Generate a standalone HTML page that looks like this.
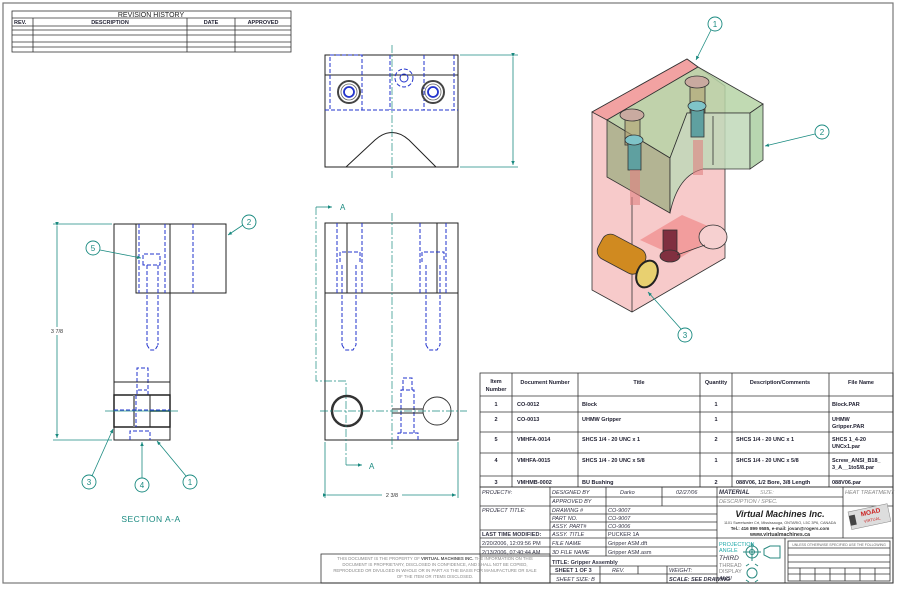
<!DOCTYPE html>
<html><head><meta charset="utf-8"><style>
html,body{margin:0;padding:0;background:#fff;}
svg{display:block;font-family:"Liberation Sans",sans-serif;}
.t{font-size:5.5px;fill:#223;font-weight:bold;}
.ti{font-size:5.5px;fill:#334;font-style:italic;}
.b{font-size:5.5px;fill:#1a2a8a;font-weight:bold;}
.ln{stroke:#333;stroke-width:0.8;fill:none;}
.k{stroke:#222;stroke-width:1;fill:none;}
.d{stroke:#2233cc;stroke-width:1;fill:none;stroke-dasharray:4 2;}
.c{stroke:#1a8a80;stroke-width:0.8;fill:none;}
.cd{stroke:#1a8a80;stroke-width:0.7;fill:none;stroke-dasharray:8 2 2 2;}
.bal{stroke:#1a8a80;stroke-width:0.9;fill:#fff;}
.bt{font-size:8px;fill:#1a8a80;text-anchor:middle;}
</style></head><body>
<svg width="900" height="590" viewBox="0 0 900 590" xmlns="http://www.w3.org/2000/svg">
<defs>
<marker id="ar" markerWidth="6" markerHeight="6" refX="5" refY="3" orient="auto"><path d="M0,0.8 L5,3 L0,5.2z" fill="#1a8a80"/></marker>
<pattern id="hatch" width="6" height="6" patternUnits="userSpaceOnUse" patternTransform="rotate(45)"><line x1="0" y1="0" x2="0" y2="6" stroke="#555" stroke-width="0.7"/></pattern>
</defs>
<rect x="3" y="3" width="890" height="580" fill="none" stroke="#777" stroke-width="1.2"/>
<!-- revision history -->
<g class="ln">
<rect x="12" y="11" width="279" height="41"/>
<line x1="12" y1="18" x2="291" y2="18"/><line x1="12" y1="26" x2="291" y2="26"/>
<line x1="12" y1="30" x2="291" y2="30"/><line x1="12" y1="35" x2="291" y2="35"/>
<line x1="12" y1="42" x2="291" y2="42"/><line x1="12" y1="47" x2="291" y2="47"/>
<line x1="33" y1="18" x2="33" y2="52"/><line x1="187" y1="18" x2="187" y2="52"/><line x1="235" y1="18" x2="235" y2="52"/>
</g>
<text x="151" y="17" font-size="7" text-anchor="middle" fill="#222">REVISION HISTORY</text>
<text x="14" y="24" class="t" font-size="4.5">REV.</text>
<text x="110" y="24" class="t" font-size="4.5" text-anchor="middle">DESCRIPTION</text>
<text x="211" y="24" class="t" font-size="4.5" text-anchor="middle">DATE</text>
<text x="263" y="24" class="t" font-size="4.5" text-anchor="middle">APPROVED</text>

<!-- SECTION A-A -->
<rect class="k" x="114" y="224" width="56" height="216"/>
<rect x="136" y="224" width="90" height="69" fill="#fff" class="k"/>
<line class="d" x1="139" y1="224" x2="139" y2="293"/><line class="d" x1="165" y1="224" x2="165" y2="293"/><line class="d" x1="193" y1="224" x2="193" y2="293"/>
<path class="d" d="M143,265 V254 H160 V265 Z M147,265 V345 M158,265 V345 M147,345 L150,350 H155 L158,345"/>
<path class="d" d="M137,400 V368 H148 V400 M138,390 H147"/>
<rect x="114" y="382" width="56" height="13" fill="url(#hatch)" class="k"/>
<rect x="114" y="427" width="56" height="13" fill="url(#hatch)" class="k"/>
<rect x="114" y="395" width="56" height="32" fill="#fff" stroke="#222" stroke-width="1.5"/>
<line x1="134" y1="395" x2="134" y2="427" stroke="#888" stroke-width="2"/>
<line x1="150" y1="395" x2="150" y2="427" stroke="#222" stroke-width="1"/>
<line x1="150" y1="411" x2="170" y2="411" stroke="#222" stroke-width="1.4"/>
<line class="d" x1="136" y1="395" x2="136" y2="427"/><line class="d" x1="114" y1="410" x2="170" y2="410"/>
<line class="c" x1="105" y1="411" x2="178" y2="411"/>
<path class="d" d="M130,440 V431 H150 V440"/>
<line class="c" x1="53" y1="224" x2="112" y2="224"/><line class="c" x1="53" y1="440" x2="112" y2="440"/>
<line class="c" x1="57" y1="226" x2="57" y2="438" marker-end="url(#ar)" marker-start="url(#ar)"/>
<rect x="50" y="327" width="14" height="8" fill="#fff"/>
<text x="57" y="333" font-size="5.5" text-anchor="middle" fill="#333">3 7/8</text>
<line class="c" x1="243" y1="225" x2="228" y2="235" marker-end="url(#ar)"/>
<circle class="bal" cx="249" cy="222" r="7"/><text class="bt" x="249" y="225">2</text>
<line class="c" x1="100" y1="250" x2="141" y2="258" marker-end="url(#ar)"/>
<circle class="bal" cx="93" cy="248" r="7"/><text class="bt" x="93" y="251">5</text>
<line class="c" x1="92" y1="476" x2="113" y2="429" marker-end="url(#ar)"/>
<circle class="bal" cx="89" cy="482" r="7"/><text class="bt" x="89" y="485">3</text>
<line class="c" x1="142" y1="478" x2="142" y2="442" marker-end="url(#ar)"/>
<circle class="bal" cx="142" cy="485" r="7"/><text class="bt" x="142" y="488">4</text>
<line class="c" x1="186" y1="476" x2="157" y2="441" marker-end="url(#ar)"/>
<circle class="bal" cx="190" cy="482" r="7"/><text class="bt" x="190" y="485">1</text>
<text x="151" y="522" font-size="8.5" fill="#1a8a80" text-anchor="middle" letter-spacing="0.5">SECTION A-A</text>

<!-- TOP VIEW -->
<rect class="k" x="325" y="55" width="133" height="112"/>
<line class="k" x1="325" y1="75" x2="458" y2="75"/>
<path class="k" d="M346,167 L375,140 Q392,125 409,140 L436,167" fill="#fff"/>
<line class="k" x1="325" y1="167" x2="458" y2="167" />
<rect class="d" x="330" y="55" width="32" height="55" stroke-width="1.4"/>
<path class="d" d="M390,55 V110 M424,55 V110 M454,55 V110 M325,110 H458"/>
<circle cx="349" cy="92" r="11" fill="none" stroke="#444" stroke-width="2"/><circle cx="349" cy="92" r="8" fill="none" stroke="#666" stroke-width="0.8"/><circle cx="349" cy="92" r="5" fill="none" stroke="#2233cc" stroke-width="1.8"/>
<circle cx="433" cy="92" r="11" fill="none" stroke="#444" stroke-width="2"/><circle cx="433" cy="92" r="8" fill="none" stroke="#666" stroke-width="0.8"/><circle cx="433" cy="92" r="5" fill="none" stroke="#2233cc" stroke-width="1.8"/>
<circle class="d" cx="404" cy="78" r="9"/><circle cx="404" cy="78" r="4" fill="none" stroke="#2233cc"/>
<line class="cd" x1="392" y1="45" x2="392" y2="178"/>
<line class="c" x1="460" y1="55" x2="518" y2="55"/><line class="c" x1="460" y1="167" x2="518" y2="167"/>
<line class="c" x1="513" y1="57" x2="513" y2="165" marker-end="url(#ar)" marker-start="url(#ar)"/>

<!-- FRONT VIEW -->
<rect class="k" x="325" y="223" width="133" height="217"/>
<line class="k" x1="325" y1="293" x2="458" y2="293"/>
<line class="k" x1="347" y1="223" x2="347" y2="293"/><line class="k" x1="437" y1="223" x2="437" y2="293"/>
<path class="d" d="M337,223 V293 M362,223 V293 M340,262 V252 H360 V262 M342,265 V345 M356,265 V345 M342,345 L345,350 H353 L356,345"/>
<path class="d" d="M420,223 V293 M446,223 V293 M422,262 V252 H444 V262 M426,265 V345 M440,265 V345 M426,345 L429,350 H437 L440,345"/>
<path class="d" d="M398,440 V433 H418 V440 M401,433 V390 H414 V433 M403,390 V378 H412 V390"/>
<circle cx="347" cy="411" r="15" fill="none" stroke="#333" stroke-width="2.5"/>
<circle cx="437" cy="411" r="14" fill="none" stroke="#333" stroke-width="0.9"/>
<path class="k" d="M392,409 H423 M392,413 H423" stroke-width="0.7"/>
<line class="cd" x1="320" y1="411" x2="467" y2="411"/>
<line class="cd" x1="392" y1="213" x2="392" y2="450"/>
<path class="cd" d="M316,207 V381 H346 V465"/>
<line class="c" x1="316" y1="207" x2="332" y2="207" marker-end="url(#ar)"/>
<line class="c" x1="346" y1="465" x2="362" y2="465" marker-end="url(#ar)"/>
<text x="340" y="210" font-size="8" fill="#1a8a80">A</text>
<text x="369" y="469" font-size="8" fill="#1a8a80">A</text>
<line class="c" x1="325" y1="442" x2="325" y2="498"/><line class="c" x1="458" y1="442" x2="458" y2="498"/>
<line class="c" x1="327" y1="495" x2="456" y2="495" marker-end="url(#ar)" marker-start="url(#ar)"/>
<rect x="382" y="491" width="20" height="8" fill="#fff"/>
<text x="392" y="497" font-size="5.5" fill="#333" text-anchor="middle">2 3/8</text>

<!-- 3D VIEW -->
<g stroke="#333" stroke-width="0.8">
<polygon points="592,112 687,59 698,67 725,86 725,258 632,312 592,290" fill="#f6c4c4" fill-opacity="0.9"/>
<polygon points="592,112 687,59 698,67 607,120" fill="#f2a2a2"/>
<line x1="632" y1="197" x2="632" y2="312"/>
<polygon points="640,240 682,215 722,232 680,258" fill="#ee7878" fill-opacity="0.55" stroke="none"/>
<polygon points="607,120 698,67 763,104 750,113 687,113 670,158" fill="#b6d3a6" fill-opacity="0.85"/>
<polygon points="607,120 670,158 670,213 607,177" fill="#a7b08a" fill-opacity="0.85"/>
<path d="M670,158 L687,113 L750,113 L750,169 L703,169 Q678,175 670,213 Z" fill="#c0d8b8" fill-opacity="0.85"/>
<polygon points="750,113 763,104 763,160 750,169" fill="#b8d6b0"/>
<line x1="713" y1="116" x2="713" y2="165"/>
<rect x="625" y="115" width="15" height="30" fill="#b0a070" fill-opacity="0.6"/>
<ellipse cx="632" cy="115" rx="12" ry="6" fill="#c9aaa0"/>
<rect x="690" y="85" width="15" height="28" fill="#b0a070" fill-opacity="0.6"/>
<ellipse cx="697" cy="82" rx="12" ry="6" fill="#c9aaa0"/>
<rect x="628" y="140" width="13" height="30" fill="#5fa0a0"/><ellipse cx="634" cy="140" rx="9" ry="5" fill="#7fc4c8"/>
<rect x="691" y="107" width="13" height="30" fill="#5fa0a0"/><ellipse cx="697" cy="106" rx="9" ry="5" fill="#7fc4c8"/>
<rect x="630" y="170" width="10" height="35" fill="#e08080" fill-opacity="0.6" stroke="none"/>
<rect x="693" y="140" width="10" height="35" fill="#e08080" fill-opacity="0.6" stroke="none"/>
<rect x="663" y="230" width="14" height="25" fill="#803040"/><ellipse cx="670" cy="256" rx="10" ry="6" fill="#803040"/>
<ellipse cx="713" cy="237" rx="14" ry="12" fill="#f6d0d0"/>
<line x1="677" y1="255" x2="705" y2="245"/>
<rect x="597" y="240" width="48" height="27" rx="9" fill="#d08a20" transform="rotate(28 620 255)"/>
<ellipse cx="647" cy="274" rx="10" ry="14" fill="#e8d070" stroke="#222" stroke-width="2" transform="rotate(25 647 274)"/>
</g>
<line class="c" x1="711" y1="30" x2="696" y2="60" marker-end="url(#ar)"/>
<circle class="bal" cx="715" cy="24" r="7"/><text class="bt" x="715" y="27">1</text>
<line class="c" x1="815" y1="134" x2="765" y2="146" marker-end="url(#ar)"/>
<circle class="bal" cx="822" cy="132" r="7"/><text class="bt" x="822" y="135">2</text>
<line class="c" x1="681" y1="329" x2="648" y2="292" marker-end="url(#ar)"/>
<circle class="bal" cx="685" cy="335" r="7"/><text class="bt" x="685" y="338">3</text>

<!-- BOM -->
<g class="ln">
<rect x="480" y="373" width="413" height="114"/>
<line x1="480" y1="396" x2="893" y2="396"/><line x1="480" y1="412" x2="893" y2="412"/>
<line x1="480" y1="432" x2="893" y2="432"/><line x1="480" y1="453" x2="893" y2="453"/>
<line x1="480" y1="476" x2="893" y2="476"/>
<line x1="512" y1="373" x2="512" y2="487"/><line x1="578" y1="373" x2="578" y2="487"/>
<line x1="700" y1="373" x2="700" y2="487"/><line x1="732" y1="373" x2="732" y2="487"/>
<line x1="829" y1="373" x2="829" y2="487"/>
</g>
<g>
<text x="496" y="383" text-anchor="middle" class="t">Item</text><text x="496" y="391" text-anchor="middle" class="t">Number</text>
<text x="545" y="384" text-anchor="middle" class="t">Document Number</text>
<text x="639" y="384" text-anchor="middle" class="t">Title</text>
<text x="716" y="384" text-anchor="middle" class="t">Quantity</text>
<text x="780" y="384" text-anchor="middle" class="t">Description/Comments</text>
<text x="861" y="384" text-anchor="middle" class="t">File Name</text>
</g>
<g class="t">
<text x="496" y="406" text-anchor="middle">1</text><text x="517" y="406">CO-0012</text><text x="582" y="406">Block</text><text x="716" y="406" text-anchor="middle">1</text><text x="832" y="406">Block.PAR</text>
<text x="496" y="421" text-anchor="middle">2</text><text x="517" y="421">CO-0013</text><text x="582" y="421">UHMW Gripper</text><text x="716" y="421" text-anchor="middle">1</text><text x="832" y="421">UHMW</text><text x="832" y="428">Gripper.PAR</text>
<text x="496" y="441" text-anchor="middle">5</text><text x="517" y="441">VMHFA-0014</text><text x="582" y="441">SHCS 1/4 - 20 UNC x 1</text><text x="716" y="441" text-anchor="middle">2</text><text x="736" y="441">SHCS 1/4 - 20 UNC x 1</text><text x="832" y="441">SHCS 1_4-20</text><text x="832" y="448">UNCx1.par</text>
<text x="496" y="462" text-anchor="middle">4</text><text x="517" y="462">VMHFA-0015</text><text x="582" y="462">SHCS 1/4 - 20 UNC x 5/8</text><text x="716" y="462" text-anchor="middle">1</text><text x="736" y="462">SHCS 1/4 - 20 UNC x 5/8</text><text x="832" y="462">Screw_ANSI_B18_</text><text x="832" y="469">3_A__1to5/8.par</text>
<text x="496" y="484" text-anchor="middle">3</text><text x="517" y="484">VMHMB-0002</text><text x="582" y="484">BU Bushing</text><text x="716" y="484" text-anchor="middle">2</text><text x="736" y="484">088V06, 1/2 Bore, 3/8 Length</text><text x="832" y="484">088V06.par</text>
</g>

<!-- title block -->
<g class="ln">
<rect x="480" y="487" width="413" height="96"/>
<rect x="321" y="554" width="229" height="29"/>
<line x1="550" y1="487" x2="550" y2="583"/>
<line x1="606" y1="487" x2="606" y2="556"/>
<line x1="662" y1="487" x2="662" y2="506"/>
<line x1="717" y1="487" x2="717" y2="583"/>
<line x1="843" y1="487" x2="843" y2="538"/>
<line x1="550" y1="497" x2="717" y2="497"/><line x1="480" y1="506" x2="893" y2="506"/>
<line x1="550" y1="514" x2="717" y2="514"/><line x1="550" y1="522" x2="717" y2="522"/>
<line x1="480" y1="530" x2="717" y2="530"/><line x1="480" y1="538" x2="893" y2="538"/>
<line x1="480" y1="547" x2="717" y2="547"/><line x1="480" y1="556" x2="717" y2="556"/>
<line x1="550" y1="566" x2="717" y2="566"/><line x1="550" y1="574" x2="717" y2="574"/>
<line x1="717" y1="497" x2="843" y2="497"/>
<line x1="600" y1="566" x2="600" y2="583"/><line x1="638" y1="566" x2="638" y2="574"/><line x1="667" y1="566" x2="667" y2="583"/>
<line x1="785" y1="538" x2="785" y2="583"/>
<rect x="788" y="541" width="102" height="40"/>
<line x1="788" y1="548" x2="890" y2="548"/><line x1="788" y1="555" x2="890" y2="555"/><line x1="788" y1="562" x2="890" y2="562"/>
<line x1="788" y1="568" x2="890" y2="568"/><line x1="788" y1="574" x2="890" y2="574"/>
<line x1="800" y1="568" x2="800" y2="581"/><line x1="815" y1="568" x2="815" y2="581"/><line x1="830" y1="568" x2="830" y2="581"/><line x1="845" y1="568" x2="845" y2="581"/><line x1="860" y1="568" x2="860" y2="581"/><line x1="875" y1="568" x2="875" y2="581"/>
</g>
<g class="ti">
<text x="482" y="494">PROJECT#:</text>
<text x="552" y="494">DESIGNED BY</text><text x="620" y="494">Darko</text><text x="676" y="494">02/27/06</text>
<text x="552" y="503">APPROVED BY</text>
<text x="482" y="512">PROJECT TITLE:</text>
<text x="552" y="512">DRAWING #</text><text x="608" y="512">CO-9007</text>
<text x="552" y="520">PART NO.</text><text x="608" y="520">CO-9007</text>
<text x="552" y="528">ASSY. PART#</text><text x="608" y="528">CO-9006</text>
<text x="482" y="536" font-style="normal" font-weight="bold">LAST TIME MODIFIED:</text>
<text x="552" y="536">ASSY. TITLE</text><text x="608" y="536" font-style="normal">PUCKER 1A</text>
<text x="482" y="545" font-style="normal">2/20/2006, 12:09:56 PM</text>
<text x="552" y="545">FILE NAME</text><text x="608" y="545" font-style="normal">Gripper ASM.dft</text>
<text x="482" y="554" font-style="normal">2/13/2006, 07:40:44 AM</text>
<text x="552" y="554">3D FILE NAME</text><text x="608" y="554" font-style="normal">Gripper ASM.asm</text>
<text x="552" y="564" font-style="normal" font-weight="bold">TITLE: Gripper Assembly</text>
<text x="555" y="572" font-style="normal" font-weight="bold">SHEET  1  OF  3</text><text x="612" y="572">REV.</text><text x="669" y="572">WEIGHT:</text>
<text x="556" y="581">SHEET SIZE:  B</text><text x="669" y="581" font-weight="bold">SCALE: SEE DRAWING</text>
<text x="719" y="494" font-weight="bold" font-size="6">MATERIAL</text><text x="760" y="494" fill="#999">SIZE:</text>
<text x="719" y="503" fill="#888">DESCRIPTION / SPEC.</text>
<text x="845" y="494" fill="#888">HEAT TREATMENT</text>
<text x="719" y="546" fill="#2aa" font-style="normal">PROJECTION</text><text x="719" y="552" fill="#2aa" font-style="normal">ANGLE</text>
<text x="719" y="560" font-size="6.5">THIRD</text>
<text x="719" y="567" fill="#888" font-style="normal">THREAD</text><text x="719" y="573" fill="#888" font-style="normal">DISPLAY</text>
<text x="719" y="580">ANSI</text>
</g>
<text x="780" y="517" font-size="9" font-weight="bold" font-style="italic" fill="#222" text-anchor="middle">Virtual Machines Inc.</text>
<text x="780" y="524" font-size="3.8" fill="#444" text-anchor="middle">1101 Sweetwater Crt, Mississauga, ONTARIO, L5C 3P6, CANADA</text>
<text x="780" y="530" font-size="4.6" fill="#333" text-anchor="middle" font-weight="bold">Tel.: 416 899 9585, e-mail: jovan@rogers.com</text>
<text x="780" y="536" font-size="5.2" fill="#333" text-anchor="middle" font-weight="bold">www.virtualmachines.ca</text>
<g transform="translate(848,512) rotate(-12)">
<rect x="0" y="0" width="40" height="18" fill="#ddd" stroke="#888" stroke-width="0.5"/>
<rect x="0" y="4" width="6" height="10" fill="#444"/>
<text x="22" y="7" font-size="6.5" font-weight="bold" fill="#c22" text-anchor="middle">MOAD</text>
<text x="22" y="14" font-size="4" fill="#c22" text-anchor="middle">VIRTUAL</text>
</g>
<g stroke="#2a8a80" stroke-width="1" fill="none">
<circle cx="752" cy="552" r="6"/><circle cx="752" cy="552" r="2.5"/><line x1="743" y1="552" x2="761" y2="552"/><line x1="752" y1="543" x2="752" y2="561"/>
<path d="M764,549 L770,546 H780 V558 H770 L764,555 Z"/>
<circle cx="752" cy="573" r="5"/><path d="M746,566 l3,-2 M758,566 l-3,-2 M746,580 l3,2 M758,580 l-3,2"/>
</g>
<text x="839" y="546" font-size="3.5" fill="#666" text-anchor="middle">UNLESS OTHERWISE SPECIFIED USE THE FOLLOWING</text>

<!-- disclaimer -->
<g font-size="4.3" fill="#888" text-anchor="middle">
<text x="435" y="560">THIS DOCUMENT IS THE PROPERTY OF <tspan font-weight="bold" fill="#555">VIRTUAL MACHINES INC.</tspan> THE INFORMATION ON THIS</text>
<text x="435" y="566">DOCUMENT IS PROPRIETARY, DISCLOSED IN CONFIDENCE, AND SHALL NOT BE COPIED,</text>
<text x="435" y="572">REPRODUCED OR DIVULGED IN WHOLE OR IN PART AS THE BASIS FOR MANUFACTURE OR SALE</text>
<text x="435" y="578">OF THE ITEM OR ITEMS DISCLOSED.</text>
</g>
</svg>
</body></html>
